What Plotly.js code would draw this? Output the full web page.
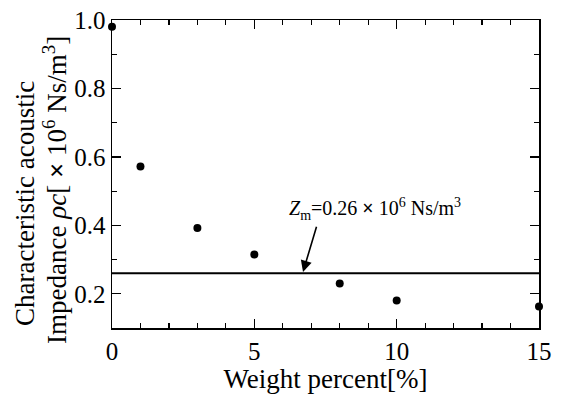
<!DOCTYPE html>
<html>
<head>
<meta charset="utf-8">
<script src="https://cdn.plot.ly/plotly-3.0.1.min.js"></script>
<style>html,body{margin:0;padding:0;background:#fff;}#chart{width:561px;height:399px;}</style>
</head>
<body>
<div id="chart"></div>
<script>
// Data
const weightPercent = [0, 1, 3, 5, 8, 10, 15];
const impedance = [0.98, 0.572, 0.392, 0.315, 0.230, 0.180, 0.163];
const zmValue = 0.26;
const xTickVals = [0, 5, 10, 15];
const yTickVals = [0.2, 0.4, 0.6, 0.8, 1.0];

const serif = "Liberation Serif";

const traces = [
  {
    x: [weightPercent[0], weightPercent[weightPercent.length - 1]],
    y: [zmValue, zmValue],
    mode: "lines",
    line: {color: "#000", width: 2},
    hoverinfo: "skip",
    showlegend: false,
    cliponaxis: false
  },
  {
    x: weightPercent,
    y: impedance,
    mode: "markers",
    marker: {color: "#000", size: 8},
    showlegend: false,
    cliponaxis: false
  }
];

const axisCommon = {
  showgrid: false,
  zeroline: false,
  showline: true,
  linecolor: "#000",
  linewidth: 1.5,
  mirror: "ticks",
  ticks: "inside",
  ticklen: 9,
  tickwidth: 1.3,
  tickcolor: "#000",
  tickfont: {family: serif, size: 25, color: "#000"}
};

const layout = {
  width: 561,
  height: 399,
  margin: {l: 112, r: 22, t: 20, b: 71},
  paper_bgcolor: "#fff",
  plot_bgcolor: "#fff",
  showlegend: false,
  font: {family: serif, color: "#000"},
  xaxis: Object.assign({}, axisCommon, {
    range: [0, 15],
    tickmode: "array",
    tickvals: xTickVals,
    ticktext: xTickVals.map(String),
    minor: {dtick: 1, tick0: 0, ticks: "inside", ticklen: 5, tickwidth: 1.2, tickcolor: "#000"},
    title: {text: "Weight percent[%]", font: {family: serif, size: 27, color: "#000"}, standoff: 2}
  }),
  yaxis: Object.assign({}, axisCommon, {
    range: [0.1, 1.0],
    tickmode: "array",
    tickvals: yTickVals,
    ticktext: yTickVals.map(v => v.toFixed(1)),
    minor: {dtick: 0.1, tick0: 0, ticks: "inside", ticklen: 5, tickwidth: 1.2, tickcolor: "#000"}
  }),
  annotations: [
    {
      xref: "paper", yref: "paper",
      x: (25 - 112) / 427, y: (328 - 204) / 308,
      xanchor: "center", yanchor: "middle",
      textangle: -90,
      showarrow: false,
      text: "Characteristic acoustic",
      font: {family: serif, size: 27, color: "#000"}
    },
    {
      xref: "paper", yref: "paper",
      x: (55 - 112) / 427, y: (328 - 190) / 308,
      xanchor: "center", yanchor: "middle",
      textangle: -90,
      showarrow: false,
      text: "Impedance <i>ρc</i>[ <b>×</b> 10<sup>6</sup> Ns/m<sup>3</sup>]",
      font: {family: serif, size: 27, color: "#000"}
    },
    {
      xref: "x", yref: "y",
      x: 9.25, y: 0.447,
      xanchor: "center", yanchor: "middle",
      showarrow: false,
      text: "<i>Z</i><sub>m</sub>=0.26 <b>×</b> 10<sup>6</sup> Ns/m<sup>3</sup>",
      font: {family: serif, size: 20, color: "#000"}
    },
    {
      xref: "x", yref: "y",
      x: 6.71, y: 0.264,
      axref: "x", ayref: "y",
      ax: 7.2, ay: 0.40,
      text: "",
      showarrow: true,
      arrowhead: 2,
      arrowsize: 1.4,
      arrowwidth: 1.6,
      arrowcolor: "#000",
      standoff: 0
    }
  ]
};

Plotly.newPlot("chart", traces, layout, {displayModeBar: false, staticPlot: true});
</script>
</body>
</html>
